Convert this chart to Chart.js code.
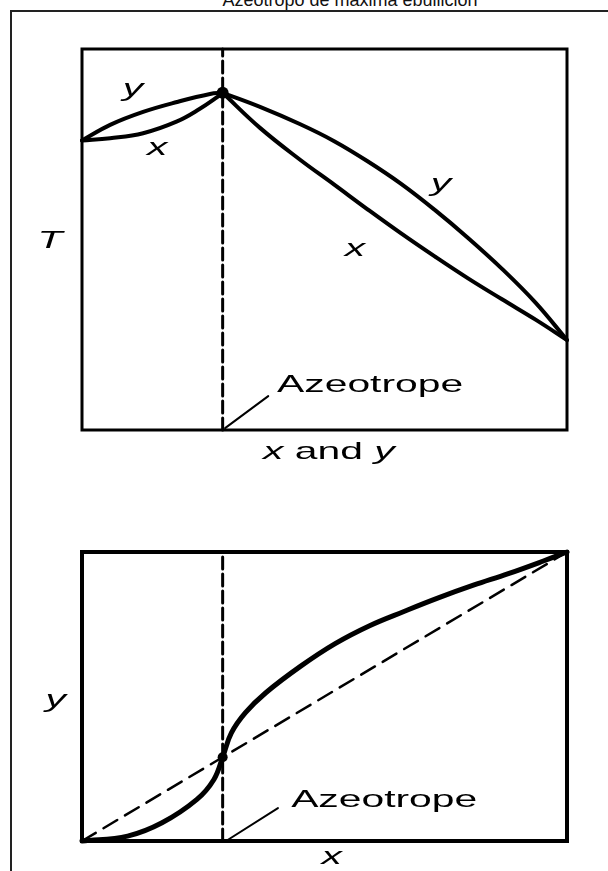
<!DOCTYPE html>
<html>
<head>
<meta charset="utf-8">
<script src="https://cdn.jsdelivr.net/npm/chart.js@4.4.1/dist/chart.umd.min.js"></script>
<style>
  html, body { margin: 0; padding: 0; background: #fff; }
  body { width: 608px; height: 871px; position: relative; overflow: hidden;
         font-family: "Liberation Sans", Arial, sans-serif; }
  #title { position: absolute; left: 0; width: 700px; top: -10px; text-align: center;
           font-size: 18px; line-height: 20px; color: #111; white-space: nowrap; }
  #box { position: absolute; left: 10px; top: 10px; width: 720px; height: 900px;
         border-top: 2px solid #222; border-left: 2px solid #222; }
  canvas { position: absolute; left: 0; }
</style>
</head>
<body>
<div id="title">Azeotropo de máxima ebullición</div>
<div id="box"></div>
<canvas id="tx" width="608" height="460" style="top:20px"></canvas>
<canvas id="xy" width="608" height="371" style="top:500px"></canvas>
<script>
// Azeotrope composition
const azeotropeX = 0.29;

// T–x–y diagram (temperature in relative units, 0–100)
const vapourLeftX  = [0, 0.058, 0.126, 0.196, 0.264, 0.29];
const vapourLeftT  = [76.0, 80.1, 83.5, 86.1, 88.2, 88.5];
const liquidLeftX  = [0, 0.058, 0.126, 0.196, 0.243, 0.278, 0.29];
const liquidLeftT  = [76.0, 76.6, 77.9, 81.0, 84.3, 87.3, 88.5];
const rightX       = [0.29, 0.367, 0.449, 0.520, 0.588, 0.658, 0.728, 0.796, 0.866, 0.936, 1.0];
const vapourRightT = [88.5, 84.8, 80.3, 75.8, 70.6, 64.6, 57.7, 50.4, 42.3, 33.3, 23.6];
const liquidRightT = [88.5, 79.3, 71.0, 64.4, 58.0, 51.6, 45.5, 39.8, 34.3, 28.9, 23.6];
const azeotropeT   = 88.5;

// y–x diagram
const eqX = [0, 0.094, 0.165, 0.237, 0.272, 0.29, 0.308, 0.337, 0.379, 0.451, 0.522, 0.593, 0.665, 0.736, 0.807, 0.879, 0.950, 1.0];
const eqY = [0, 0.017, 0.063, 0.144, 0.213, 0.29, 0.374, 0.444, 0.513, 0.605, 0.683, 0.745, 0.795, 0.842, 0.885, 0.925, 0.968, 1.0];
const diagonal = [0, 1];

// pointer segments from the azeotrope line to its caption
const pointerTopX = [0.295, 0.384];
const pointerTopT = [0.5, 8.9];
const pointerBotX = [0.297, 0.404];
const pointerBotY = [0.0, 0.114];

const pts = (xs, ys) => xs.map((x, i) => ({ x, y: ys[i] }));

const FONT = '"Liberation Sans", Arial, Helvetica, sans-serif';
const STRETCH = 1.7;

// box around the plotting area
const framePlugin = {
  id: 'frameBox',
  afterDatasetsDraw(chart, args, opts) {
    const { ctx, chartArea: a } = chart;
    ctx.save();
    ctx.lineWidth = opts.width || 3;
    ctx.strokeStyle = '#000';
    ctx.strokeRect(a.left, a.top, a.right - a.left, a.bottom - a.top);
    ctx.restore();
  }
};

// text labels placed at data coordinates, drawn horizontally stretched
const labelPlugin = {
  id: 'textLabels',
  afterDraw(chart, args, opts) {
    const { ctx, scales } = chart;
    (opts.items || []).forEach(item => {
      const px = scales.x.getPixelForValue(item.x);
      const py = scales.y.getPixelForValue(item.y);
      ctx.save();
      ctx.translate(px, py);
      ctx.scale(STRETCH, 1);
      ctx.fillStyle = '#000';
      ctx.textBaseline = 'middle';
      ctx.textAlign = 'left';
      const size = item.size || 24;
      const fontOf = p => (p.i ? 'italic ' : '') + size + 'px ' + FONT;
      let total = 0;
      item.parts.forEach(p => { ctx.font = fontOf(p); total += ctx.measureText(p.t).width; });
      let cx = -total / 2;
      item.parts.forEach(p => {
        ctx.font = fontOf(p);
        ctx.fillText(p.t, cx, 0);
        cx += ctx.measureText(p.t).width;
      });
      ctx.restore();
    });
  }
};

function line(data, width, dash, tension) {
  return {
    data, showLine: true, borderColor: '#000', backgroundColor: '#000',
    borderWidth: width, borderDash: dash || [], pointRadius: 0,
    tension: tension || 0, clip: false, borderCapStyle: 'round', borderJoinStyle: 'round'
  };
}
function dot(data, r) {
  return { data, showLine: false, pointRadius: r, pointBackgroundColor: '#000',
           pointBorderColor: '#000', pointBorderWidth: 0, clip: false };
}

function build(id, datasets, yMax, padding, items, frameWidth) {
  return new Chart(document.getElementById(id), {
    type: 'scatter',
    data: { datasets },
    options: {
      responsive: false, animation: false, devicePixelRatio: 1, events: [],
      layout: { padding },
      scales: {
        x: { type: 'linear', min: 0, max: 1, display: false },
        y: { type: 'linear', min: 0, max: yMax, display: false }
      },
      plugins: {
        legend: { display: false }, tooltip: { enabled: false },
        frameBox: { width: frameWidth },
        textLabels: { items }
      }
    },
    plugins: [framePlugin, labelPlugin]
  });
}

// T versus x and y
build('tx', [
  line(pts([azeotropeX, azeotropeX], [0, 100]), 3, [12, 5]),
  line(pts(pointerTopX, pointerTopT), 2),
  line(pts(vapourLeftX, vapourLeftT), 4, null, 0.4),
  line(pts(liquidLeftX, liquidLeftT), 4, null, 0.4),
  line(pts(rightX, vapourRightT), 4, null, 0.4),
  line(pts(rightX, liquidRightT), 4, null, 0.4),
  dot([{ x: azeotropeX, y: azeotropeT }], 6)
], 100, { left: 82, right: 41, top: 29, bottom: 50 }, [
  { x: 0.105, y: 89.5, parts: [{ t: 'y', i: true }] },
  { x: 0.155, y: 74.0, parts: [{ t: 'x', i: true }] },
  { x: 0.740, y: 64.6, parts: [{ t: 'y', i: true }] },
  { x: 0.563, y: 47.5, parts: [{ t: 'x', i: true }] },
  { x: 0.594, y: 11.8, parts: [{ t: 'Azeotrope' }] },
  { x: -0.066, y: 49.6, parts: [{ t: 'T', i: true }] },
  { x: 0.509, y: -5.8, parts: [{ t: 'x', i: true }, { t: ' and ' }, { t: 'y', i: true }] }
], 3);

// y versus x
build('xy', [
  line(pts([azeotropeX, azeotropeX], [0, 1]), 3, [12, 5]),
  line(pts(diagonal, diagonal), 2.5, [16, 9]),
  line(pts(pointerBotX, pointerBotY), 2),
  line(pts(eqX, eqY), 5, null, 0.4),
  dot([{ x: azeotropeX, y: azeotropeX }], 5)
], 1, { left: 82, right: 41, top: 52, bottom: 30 }, [
  { x: 0.623, y: 0.142, parts: [{ t: 'Azeotrope' }] },
  { x: -0.054, y: 0.488, parts: [{ t: 'y', i: true }] },
  { x: 0.515, y: -0.055, parts: [{ t: 'x', i: true }] }
], 4);
</script>
</body>
</html>
